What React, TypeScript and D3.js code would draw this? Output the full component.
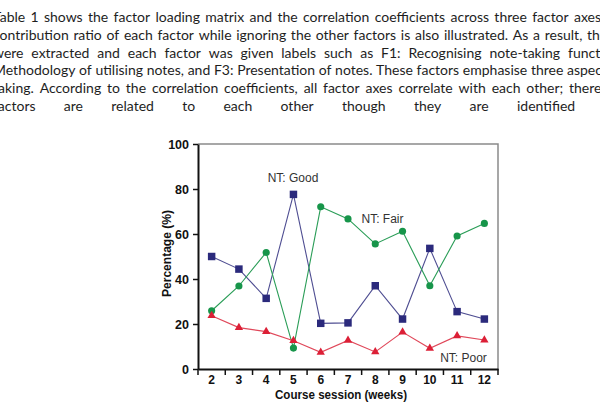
import { useEffect, useRef } from "react";
import * as d3 from "d3";

// course sessions (weeks) and the share of note-taking levels per session
const sessions = ["2", "3", "4", "5", "6", "7", "8", "9", "10", "11", "12"];
const goodPct = [50, 44.4, 31.4, 77.6, 20.3, 20.5, 37, 22.2, 53.6, 25.5, 22.2];
const fairPct = [25.9, 36.9, 51.8, 9.3, 72.1, 66.7, 55.6, 61.2, 37, 59.1, 64.7];
const poorPct = [23.7, 18.4, 16.6, 12.6, 7.4, 12.7, 7.6, 16.4, 9.2, 14.7, 12.9];
const yTicks = [0, 20, 40, 60, 80, 100];

const paragraphLines = [
	"Table 1 shows the factor loading matrix and the correlation coefficients across three factor axes.",
	"contribution ratio of each factor while ignoring the other factors is also illustrated. As a result, the",
	"were extracted and each factor was given labels such as F1: Recognising note-taking functions",
	"Methodology of utilising notes, and F3: Presentation of notes. These factors emphasise three aspects",
	"taking. According to the correlation coefficients, all factor axes correlate with each other; therefore",
	"factors are related to each other though they are identified",
];

const W = 600;
const H = 407;
const textLeft = -7;
const lastWordX = [574, 587, 568, 567, 569, 517];
const chartFont = "'Liberation Sans', Arial, Helvetica, sans-serif";

export default function App() {
	const svgRef = useRef<SVGSVGElement>(null);

	useEffect(() => {
		if (!svgRef.current) return;
		const svg = d3.select(svgRef.current);
		svg.selectAll("*").remove();

		svg.append("rect").attr("width", W).attr("height", H).attr("fill", "white");

		// justified paragraph, word by word
		const para = svg
			.append("g")
			.attr("font-family", "Lato, 'Open Sans', sans-serif")
			.attr("font-size", 14)
			.attr("fill", "#1e1e1e");

		paragraphLines.forEach((line, li) => {
			const words = line.split(" ");
			const baseline = 22 + li * 17.8;
			const nodes = words.map((w) =>
				para.append("text").attr("y", baseline).text(w)
			);
			const widths = nodes.map((n) => (n.node() as SVGTextElement).getComputedTextLength());
			const inner = d3.sum(widths.slice(0, -1));
			const gap = (lastWordX[li] - textLeft - inner) / (words.length - 1);
			let cx = textLeft;
			nodes.forEach((n, i) => {
				n.attr("x", cx);
				cx += widths[i] + gap;
			});
		});

		const x = d3.scaleBand<string>().domain(sessions).range([198, 498]);
		const y = d3.scaleLinear().domain([0, 100]).range([369, 144]);
		const cxOf = (s: string) => (x(s) ?? 0) + x.bandwidth() / 2;

		const g = svg.append("g");

		// frame: grey top and right edges
		g.append("path")
			.attr("d", `M${x.range()[0]},${y(100)}H${x.range()[1]}V${y(0)}`)
			.attr("fill", "none")
			.attr("stroke", "#8a8a8a")
			.attr("stroke-width", 1.5);

		// y axis
		const yAxis = d3
			.axisLeft(y)
			.tickValues(yTicks)
			.tickSize(5)
			.tickPadding(4)
			.tickSizeOuter(0);
		g.append("g")
			.attr("transform", `translate(${x.range()[0]},0)`)
			.call(yAxis)
			.call((a) => a.select(".domain").attr("stroke", "#111").attr("stroke-width", 2))
			.call((a) => a.selectAll(".tick line").attr("stroke", "#111").attr("stroke-width", 1.5))
			.call((a) =>
				a
					.selectAll(".tick text")
					.attr("fill", "#111")
					.attr("font-family", chartFont)
					.attr("font-weight", "bold")
					.attr("font-size", 12.5)
			);

		// x axis: labels centred in each session, ticks on the boundaries
		const xAxis = d3.axisBottom(x).tickSize(0).tickPadding(6).tickSizeOuter(0);
		g.append("g")
			.attr("transform", `translate(0,${y(0)})`)
			.call(xAxis)
			.call((a) => a.select(".domain").attr("stroke", "#111").attr("stroke-width", 2))
			.call((a) =>
				a
					.selectAll(".tick text")
					.attr("fill", "#111")
					.attr("font-family", chartFont)
					.attr("font-weight", "bold")
					.attr("font-size", 12)
			);

		const boundaries = [...sessions.map((s) => x(s) ?? 0), x.range()[1]];
		g.append("g")
			.selectAll("line")
			.data(boundaries)
			.join("line")
			.attr("x1", (d) => d)
			.attr("x2", (d) => d)
			.attr("y1", y(0))
			.attr("y2", y(0) + 6)
			.attr("stroke", "#111")
			.attr("stroke-width", 1.5);

		// axis titles
		g.append("text")
			.attr("x", 341)
			.attr("y", 399)
			.attr("text-anchor", "middle")
			.attr("font-family", chartFont)
			.attr("font-weight", "bold")
			.attr("font-size", 12.5)
			.attr("textLength", 132)
			.attr("lengthAdjust", "spacingAndGlyphs")
			.attr("fill", "#111")
			.text("Course session (weeks)");

		g.append("text")
			.attr("transform", "translate(171,253.5) rotate(-90)")
			.attr("text-anchor", "middle")
			.attr("font-family", chartFont)
			.attr("font-weight", "bold")
			.attr("font-size", 13)
			.attr("textLength", 87)
			.attr("lengthAdjust", "spacingAndGlyphs")
			.attr("fill", "#111")
			.text("Percentage (%)");

		const series = [
			{ values: goodPct, color: "#2b2a7c", line: "#4f4e92", symbol: d3.symbolSquare, size: 56 },
			{ values: fairPct, color: "#17954a", line: "#2a9d57", symbol: d3.symbolCircle, size: 40 },
			{ values: poorPct, color: "#dc1f36", line: "#e0485a", symbol: d3.symbolTriangle, size: 30 },
		];

		const line = d3
			.line<number>()
			.x((_, i) => cxOf(sessions[i]))
			.y((d) => y(d));

		series.forEach((s) => {
			g.append("path")
				.datum(s.values)
				.attr("fill", "none")
				.attr("stroke", s.line)
				.attr("stroke-width", 1.1)
				.attr("d", line);
		});

		series.forEach((s) => {
			const sym = d3.symbol().type(s.symbol).size(s.size);
			g.append("g")
				.selectAll("path")
				.data(s.values)
				.join("path")
				.attr("transform", (d, i) => `translate(${cxOf(sessions[i])},${y(d)})`)
				.attr("fill", s.color)
				.attr("d", sym);
		});

		// series labels
		const labels = [
			{ text: "NT: Good", x: 293, y: 182 },
			{ text: "NT: Fair", x: 382.5, y: 223 },
			{ text: "NT: Poor", x: 463.5, y: 362 },
		];
		g.append("g")
			.selectAll("text")
			.data(labels)
			.join("text")
			.attr("x", (d) => d.x)
			.attr("y", (d) => d.y)
			.attr("text-anchor", "middle")
			.attr("font-family", "'Liberation Sans', Arial, sans-serif")
			.attr("font-size", 12)
			.attr("fill", "#333")
			.text((d) => d.text);
	}, []);

	return (
		<svg
			ref={svgRef}
			width={W}
			height={H}
			style={{ position: "absolute", left: 0, top: 0 }}
		/>
	);
}
